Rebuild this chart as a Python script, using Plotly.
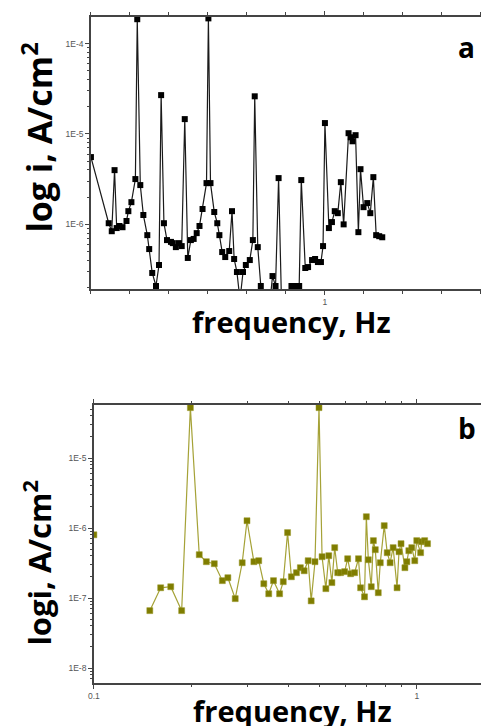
import plotly.graph_objects as go

# ---------------- Panel a data (linear frequency axis) ----------------
freq_a = [0.000, 0.076, 0.089, 0.101, 0.110, 0.122, 0.135, 0.152, 0.160, 0.173,
          0.190, 0.198, 0.211, 0.224, 0.241, 0.249, 0.262, 0.278, 0.291, 0.300,
          0.312, 0.325, 0.342, 0.350, 0.363, 0.376, 0.388, 0.401, 0.414, 0.427,
          0.439, 0.452, 0.464, 0.477, 0.494, 0.502, 0.511, 0.527, 0.540, 0.549,
          0.561, 0.574, 0.591, 0.603, 0.612, 0.624, 0.637, 0.650, 0.662, 0.679,
          0.692, 0.700, 0.713, 0.726, 0.751, 0.764, 0.776, 0.789, 0.802, 0.814,
          0.835, 0.857, 0.873, 0.890, 0.899, 0.916, 0.928, 0.945, 0.958, 0.970,
          0.983, 0.992, 1.000, 1.017, 1.030, 1.042, 1.055, 1.068, 1.080, 1.101,
          1.110, 1.118, 1.131, 1.143, 1.152, 1.165, 1.181, 1.194, 1.207, 1.219,
          1.232, 1.245]
current_a = [5.55e-6, 1.03e-6, 8.4e-7, 3.98e-6, 9.1e-7, 9.6e-7, 9.3e-7, 1.09e-6, 1.40e-6, 1.76e-6,
             3.17e-6, 1.86e-4, 2.72e-6, 1.27e-6, 7.6e-7, 5.33e-7, 2.90e-7, 2.08e-7, 3.55e-7, 2.69e-5,
             1.03e-6, 6.7e-7, 6.4e-7, 6.2e-7, 5.6e-7, 6.2e-7, 5.75e-7, 1.46e-5, 4.25e-7, 6.7e-7,
             6.9e-7, 8.0e-7, 9.6e-7, 1.48e-6, 2.86e-6, 1.9e-4, 2.86e-6, 1.37e-6, 1.03e-6, 7.6e-7,
             4.94e-7, 4.35e-7, 5.07e-7, 1.40e-6, 4.14e-7, 2.97e-7, 1.46e-7, 2.97e-7, 3.55e-7, 4.03e-7,
             6.7e-7, 2.61e-5, 5.6e-7, 2.08e-7, 1.13e-7, 1.28e-7, 2.68e-7, 2.08e-7, 3.25e-6, 1.53e-7,
             1.53e-7, 2.08e-7, 2.08e-7, 2.08e-7, 3.09e-6, 3.29e-7, 3.37e-7, 4.03e-7, 4.14e-7, 3.83e-7,
             3.83e-7, 5.75e-7, 1.32e-5, 9.1e-7, 1.06e-6, 1.40e-6, 1.33e-6, 2.93e-6, 1.0e-6, 1.02e-5,
             9.2e-6, 8.3e-6, 9.7e-6, 8.2e-7, 4.08e-6, 1.55e-6, 1.72e-6, 1.33e-6, 3.33e-6, 7.6e-7,
             7.4e-7, 7.2e-7]

# ---------------- Panel b data (log frequency axis) ----------------
freq_b = [0.100, None,
          0.149, 0.161, 0.173, 0.187, 0.199, 0.212, 0.223, 0.236, 0.250, 0.260,
          0.274, 0.288, 0.298, 0.313, 0.324, 0.336, 0.348, 0.360, 0.376, 0.386,
          0.398, 0.409, 0.424, 0.436, 0.448, 0.461, 0.471, 0.484, 0.498, 0.509,
          0.523, 0.534, 0.546, 0.557, 0.569, 0.581, 0.598, 0.611, 0.624, 0.642,
          0.660, 0.670, 0.689, 0.698, 0.708, 0.723, 0.734, 0.744, 0.760, 0.771,
          0.793, 0.810, 0.827, 0.845, 0.869, 0.881, 0.894, 0.919, 0.932, 0.945,
          0.965, 0.986, 1.000, 1.028, 1.036, 1.058, 1.080]
current_b = [8.0e-7, None,
             6.6e-8, 1.40e-7, 1.45e-7, 6.6e-8, 5.24e-5, 4.16e-7, 3.30e-7, 3.09e-7, 1.77e-7, 1.95e-7,
             9.8e-8, 3.19e-7, 1.27e-6, 3.30e-7, 3.41e-7, 1.60e-7, 1.15e-7, 1.77e-7, 1.15e-7, 1.71e-7,
             8.6e-7, 2.01e-7, 2.30e-7, 2.71e-7, 2.45e-7, 3.41e-7, 9.1e-8, 3.30e-7, 5.24e-5, 3.89e-7,
             1.36e-7, 4.02e-7, 1.66e-7, 5.24e-7, 2.30e-7, 2.30e-7, 2.38e-7, 3.64e-7, 2.22e-7, 2.30e-7,
             3.64e-7, 1.40e-7, 1.04e-7, 1.45e-6, 3.52e-7, 1.45e-7, 6.6e-7, 4.90e-7, 1.19e-7, 3.19e-7,
             1.08e-6, 4.44e-7, 3.19e-7, 5.24e-7, 1.40e-7, 4.58e-7, 5.97e-7, 2.71e-7, 3.30e-7, 4.74e-7,
             5.24e-7, 3.41e-7, 6.6e-7, 4.44e-7, 6.37e-7, 6.6e-7, 5.97e-7]

# tick labels
ytick_vals_a = [1e-6, 1e-5, 1e-4]
ytick_text_a = ["1E-6", "1E-5", "1E-4"]
xtick_vals_a = [1.0]
xtick_text_a = ["1"]
ytick_vals_b = [1e-8, 1e-7, 1e-6, 1e-5]
ytick_text_b = ["1E-8", "1E-7", "1E-6", "1E-5"]
xtick_vals_b = [0.1, 1.0]
xtick_text_b = ["0.1", "1"]

W, H = 481, 726
minor_log = [k * 10.0 ** e for e in range(-10, 2) for k in range(2, 10)]

fig = go.Figure()
fig.add_trace(go.Scatter(
    x=freq_a, y=current_a, mode="lines+markers",
    line=dict(color="#1a1a1a", width=1.2),
    marker=dict(symbol="square", size=6, color="#000000"),
    xaxis="x", yaxis="y", showlegend=False))
fig.add_trace(go.Scatter(
    x=freq_b, y=current_b, mode="lines+markers", connectgaps=False,
    line=dict(color="#a5a237", width=1.2),
    marker=dict(symbol="square", size=6, color="#7f7d00",
                line=dict(color="#9a9828", width=0.5)),
    xaxis="x2", yaxis="y2", showlegend=False))

tickfont = dict(family="Liberation Sans, Arial, sans-serif", size=8.5, color="#555555")
axis_common = dict(showline=True, linecolor="#444444", linewidth=1.5,
                   showgrid=False, zeroline=False, ticks="outside",
                   tickcolor="#444444", ticklen=4, tickfont=tickfont)

fig.update_layout(
    width=W, height=H,
    margin=dict(l=0, r=0, t=0, b=0),
    paper_bgcolor="white", plot_bgcolor="white",
    xaxis=dict(domain=[86 / W, 1], range=[0, 1.667], anchor="y",
               tickvals=xtick_vals_a, ticktext=xtick_text_a, mirror="ticks",
               minor=dict(ticks="outside", dtick=0.5 / 3, tick0=0, ticklen=3,
                          tickcolor="#444444"),
               **axis_common),
    yaxis=dict(domain=[1 - 289 / H, 1 - 17 / H], type="log", range=[-6.715, -3.706],
               anchor="x", tickvals=ytick_vals_a, ticktext=ytick_text_a,
               minor=dict(ticks="outside", tickvals=minor_log, ticklen=2,
                          tickcolor="#444444"),
               **axis_common),
    xaxis2=dict(domain=[89 / W, 1], type="log", range=[-1, 0.199], anchor="y2",
                tickvals=xtick_vals_b, ticktext=xtick_text_b, mirror="ticks",
                minor=dict(ticks="outside", tickvals=minor_log, ticklen=2,
                           tickcolor="#444444"),
                **axis_common),
    yaxis2=dict(domain=[1 - 683 / H, 1 - 405 / H], type="log", range=[-8.214, -4.243],
                anchor="x2", tickvals=ytick_vals_b, ticktext=ytick_text_b,
                minor=dict(ticks="outside", tickvals=minor_log, ticklen=2,
                           tickcolor="#444444"),
                **axis_common),
)

def tfont(size):
    return dict(family="Open Sans, sans-serif", size=size, color="#000000")

anns = [
    dict(text="<b>log i, A/cm<sup>2</sup></b>", x=31 / W, y=1 - 138 / H, textangle=-90, font=tfont(34)),
    dict(text="<b>frequency, Hz</b>", x=289 / W, y=1 - 321 / H, font=tfont(29)),
    dict(text="<b>a</b>", x=466 / W, y=1 - 47 / H, font=tfont(28)),
    dict(text="<b>logi, A/cm<sup>2</sup></b>", x=31 / W, y=1 - 563 / H, textangle=-90, font=tfont(31)),
    dict(text="<b>frequency, Hz</b>", x=290 / W, y=1 - 710 / H, font=tfont(29)),
    dict(text="<b>b</b>", x=467 / W, y=1 - 428 / H, font=tfont(28)),
]
for a in anns:
    fig.add_annotation(xref="paper", yref="paper", showarrow=False,
                       xanchor="center", yanchor="middle", **a)

fig.write_html(
    "out.html",
    config={"displayModeBar": False},
    post_script="document.body.style.margin='0';document.body.style.padding='0';"
                "document.body.style.overflow='hidden';"
                "document.documentElement.style.overflow='hidden';",
)
